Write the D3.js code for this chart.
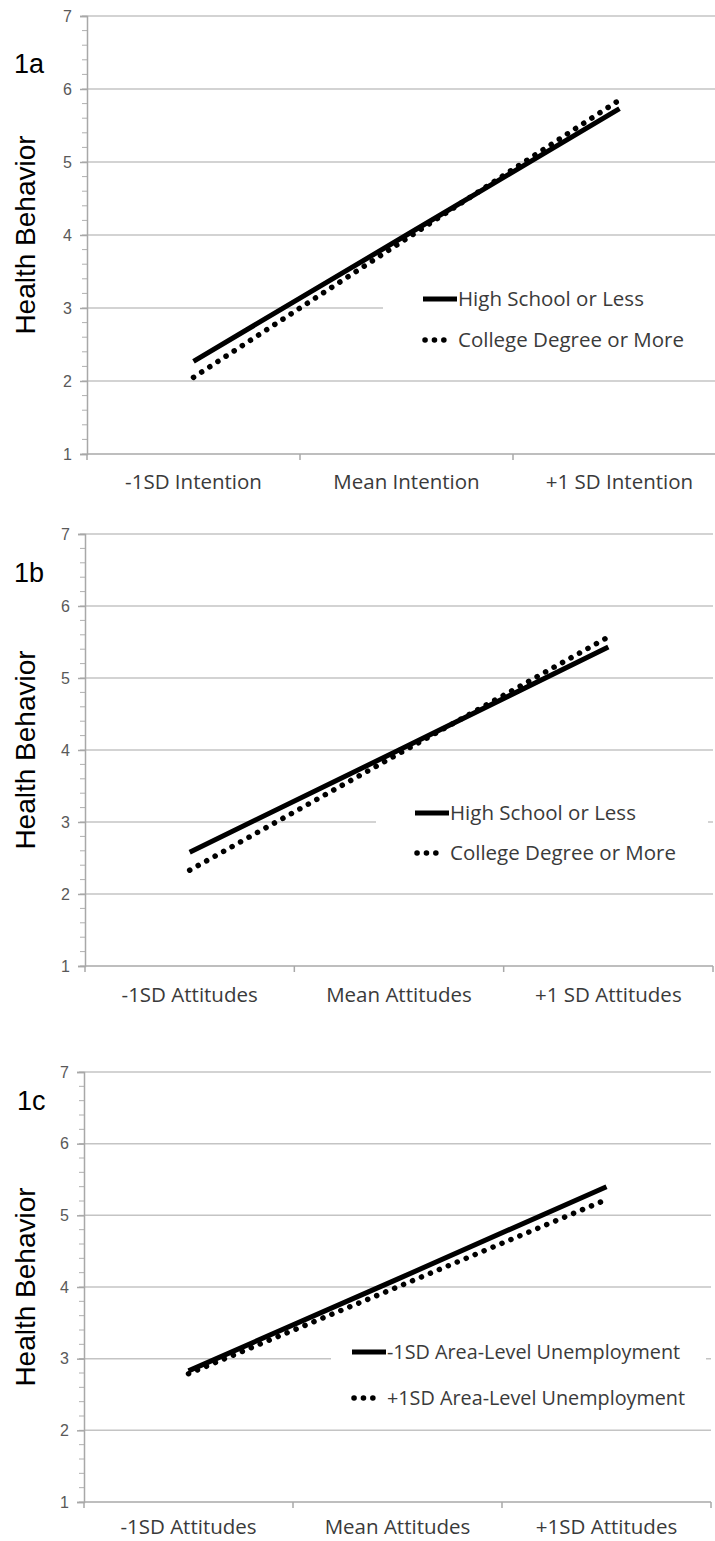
<!DOCTYPE html>
<html>
<head>
<meta charset="utf-8">
<script src="https://cdn.jsdelivr.net/npm/d3@7"></script>
<style>
  body { margin: 0; background: #fff; }
  svg { display: block; }
</style>
</head>
<body>
<div id="chart"></div>
<script>
// y axis values shared by all panels
var yTicks = [1, 2, 3, 4, 5, 6, 7];

// panel 1a
var categoriesA = ['-1SD Intention', 'Mean Intention', '+1 SD Intention'];
var highSchoolA = [2.27, 4.00, 5.73];
var collegeA = [2.05, 3.95, 5.85];

// panel 1b
var categoriesB = ['-1SD Attitudes', 'Mean Attitudes', '+1 SD Attitudes'];
var highSchoolB = [2.58, 4.00, 5.43];
var collegeB = [2.33, 3.95, 5.57];

// panel 1c
var categoriesC = ['-1SD Attitudes', 'Mean Attitudes', '+1SD Attitudes'];
var lowUnempC = [2.83, 4.11, 5.40];
var highUnempC = [2.79, 4.00, 5.22];

var legendA = ['High School or Less', 'College Degree or More'];
var legendC = ['-1SD Area-Level Unemployment', '+1SD Area-Level Unemployment'];

var svg = d3.select('#chart').append('svg')
  .attr('width', 715)
  .attr('height', 1541);

var panels = [
  { label: '1a', cats: categoriesA, series: [highSchoolA, collegeA], names: legendA,
    x0: 87, x1: 726, top: 16, bottom: 454, labelY: 73, labelX: 14, catY: 489,
    legend: { box: [383, 270, 340, 102], x: 423, y1: 299, y2: 340, size: 20.5 } },
  { label: '1b', cats: categoriesB, series: [highSchoolB, collegeB], names: legendA,
    x0: 85, x1: 713, top: 534, bottom: 966, labelY: 582, labelX: 14, catY: 1002,
    legend: { box: [376, 788, 332, 92], x: 415, y1: 813, y2: 853, size: 20.5 } },
  { label: '1c', cats: categoriesC, series: [lowUnempC, highUnempC], names: legendC,
    x0: 84, x1: 711, top: 1072, bottom: 1502, labelY: 1110, labelX: 17, catY: 1534,
    legend: { box: [331, 1330, 375, 92], x: 352, y1: 1352, y2: 1398, size: 19.8 } }
];

var textFont = '"Open Sans", "Noto Sans", sans-serif';
var numFont = '"Liberation Sans", Arial, sans-serif';

panels.forEach(function(p) {
  var g = svg.append('g');

  var x = d3.scaleBand().domain(p.cats).range([p.x0, p.x1]);
  var y = d3.scaleLinear().domain([1, 7]).range([p.bottom, p.top]);

  // gridlines
  g.append('g').selectAll('line')
    .data(yTicks.slice(1))
    .enter().append('line')
    .attr('x1', p.x0).attr('x2', p.x1)
    .attr('y1', function(d) { return y(d); })
    .attr('y2', function(d) { return y(d); })
    .attr('stroke', '#c4c4c4')
    .attr('stroke-width', 1.5);

  // minor ticks on y axis (every 0.2)
  var minor = d3.range(1, 7.001, 0.2);
  g.append('g').selectAll('line')
    .data(minor)
    .enter().append('line')
    .attr('x1', p.x0 - 5).attr('x2', p.x0)
    .attr('y1', function(d) { return y(d); })
    .attr('y2', function(d) { return y(d); })
    .attr('stroke', '#b0b0b0')
    .attr('stroke-width', 1);

  // y axis
  var yAxis = d3.axisLeft(y).tickValues(yTicks).tickSize(7).tickPadding(8).tickFormat(d3.format('d'));
  var ya = g.append('g')
    .attr('transform', 'translate(' + p.x0 + ',0)')
    .call(yAxis);
  ya.select('.domain').attr('stroke', '#a8a8a8').attr('stroke-width', 1.5);
  ya.selectAll('.tick line').attr('stroke', '#a8a8a8').attr('stroke-width', 1.5);
  ya.selectAll('.tick text')
    .attr('fill', '#595959')
    .style('font-family', numFont)
    .style('font-size', '16px');

  // x axis: ticks at category boundaries
  var bounds = p.cats.map(function(c) { return x(c); }).concat([p.x1]);
  g.append('line')
    .attr('x1', p.x0).attr('x2', p.x1)
    .attr('y1', p.bottom).attr('y2', p.bottom)
    .attr('stroke', '#a8a8a8').attr('stroke-width', 1.5);
  g.append('g').selectAll('line')
    .data(bounds)
    .enter().append('line')
    .attr('x1', function(d) { return d; })
    .attr('x2', function(d) { return d; })
    .attr('y1', p.bottom).attr('y2', p.bottom + 6)
    .attr('stroke', '#a8a8a8').attr('stroke-width', 1.5);

  g.append('g').selectAll('text')
    .data(p.cats)
    .enter().append('text')
    .attr('x', function(d) { return x(d) + x.bandwidth() / 2; })
    .attr('y', p.catY)
    .attr('text-anchor', 'middle')
    .attr('fill', '#3a3a3a')
    .style('font-family', textFont)
    .style('font-size', '20.5px')
    .text(function(d) { return d; });

  // y title
  g.append('text')
    .attr('transform', 'translate(35,' + ((p.top + p.bottom) / 2) + ') rotate(-90)')
    .attr('text-anchor', 'middle')
    .attr('fill', '#000')
    .style('font-family', numFont)
    .style('font-size', '28px')
    .text('Health Behavior');

  // panel label
  g.append('text')
    .attr('x', p.labelX).attr('y', p.labelY)
    .attr('fill', '#000')
    .style('font-family', numFont)
    .style('font-size', '27px')
    .text(p.label);

  // legend box (white, covers gridlines)
  var L = p.legend;
  g.append('rect')
    .attr('x', L.box[0]).attr('y', L.box[1])
    .attr('width', L.box[2]).attr('height', L.box[3])
    .attr('fill', '#fff');

  // lines
  var line = d3.line()
    .x(function(d, i) { return x(p.cats[i]) + x.bandwidth() / 2; })
    .y(function(d) { return y(d); });

  g.append('path')
    .datum(p.series[0])
    .attr('d', line)
    .attr('fill', 'none')
    .attr('stroke', '#000')
    .attr('stroke-width', 5);

  g.append('path')
    .datum(p.series[1])
    .attr('d', line)
    .attr('fill', 'none')
    .attr('stroke', '#000')
    .attr('stroke-width', 5.5)
    .attr('stroke-linecap', 'round')
    .attr('stroke-dasharray', '0.1 9.6');

  // legend entries
  g.append('line')
    .attr('x1', L.x).attr('x2', L.x + 34)
    .attr('y1', L.y1).attr('y2', L.y1)
    .attr('stroke', '#000').attr('stroke-width', 5);
  g.append('line')
    .attr('x1', L.x + 2).attr('x2', L.x + 30)
    .attr('y1', L.y2).attr('y2', L.y2)
    .attr('stroke', '#000').attr('stroke-width', 5.5)
    .attr('stroke-linecap', 'round')
    .attr('stroke-dasharray', '0.1 9.3');

  g.append('g').selectAll('text')
    .data(p.names)
    .enter().append('text')
    .attr('x', L.x + 35)
    .attr('y', function(d, i) { return (i === 0 ? L.y1 : L.y2) + 7; })
    .attr('fill', '#3a3a3a')
    .style('font-family', textFont)
    .style('font-size', L.size + 'px')
    .text(function(d) { return d; });
});
</script>
</body>
</html>
